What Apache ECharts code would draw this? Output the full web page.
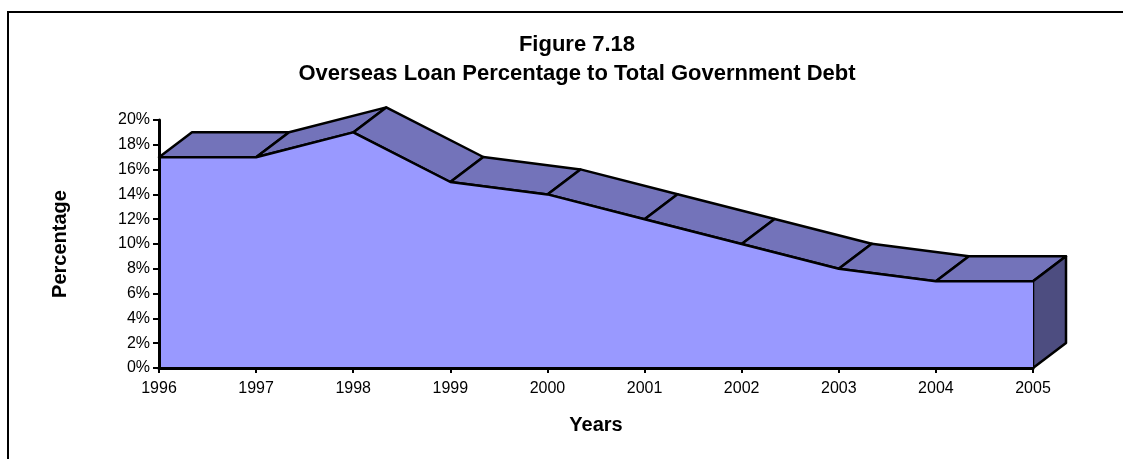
<!DOCTYPE html>
<html>
<head>
<meta charset="utf-8">
<script src="https://cdn.jsdelivr.net/npm/echarts@6/dist/echarts.min.js"></script>
<style>
html,body{margin:0;padding:0;background:#fff;}
#c{width:1123px;height:459px;}
</style>
</head>
<body>
<div id="c"></div>
<script>
var years = ['1996','1997','1998','1999','2000','2001','2002','2003','2004','2005'];
var values = [17, 17, 19, 15, 14, 12, 10, 8, 7, 7];
var yTicks = [0, 2, 4, 6, 8, 10, 12, 14, 16, 18, 20];
var titleLines = ['Figure 7.18', 'Overseas Loan Percentage to Total Government Debt'];

var DX = 33, DY = -25;
var FRONT = '#9999FF', TOP = '#7373BA', SIDE = '#4D4D80';
var FONT = 'Liberation Sans, Arial, sans-serif';

var chart = echarts.init(document.getElementById('c'));

function renderDepth(params, api) {
  var i = params.dataIndex;
  var n = values.length;
  var p = api.coord([i, values[i]]);
  var children = [];
  if (i < n - 1) {
    var q = api.coord([i + 1, values[i + 1]]);
    children.push({
      type: 'polygon',
      shape: { points: [p, q, [q[0] + DX, q[1] + DY], [p[0] + DX, p[1] + DY]] },
      style: { fill: TOP, stroke: '#000', lineWidth: 2.5, lineJoin: 'round' }
    });
  } else {
    var b = api.coord([i, 0]);
    children.push({
      type: 'polygon',
      shape: { points: [p, [p[0] + DX, p[1] + DY], [b[0] + DX, b[1] + DY], b] },
      style: { fill: SIDE, stroke: '#000', lineWidth: 2.5, lineJoin: 'round' }
    });
  }
  return { type: 'group', children: children };
}

chart.setOption({
  animation: false,
  backgroundColor: '#fff',
  graphic: [{
    type: 'rect',
    shape: { x: 8, y: 12, width: 1130, height: 470 },
    style: { fill: 'none', stroke: '#000', lineWidth: 2 },
    z: 0
  }],
  title: {
    text: titleLines.join('\n'),
    left: 572, top: 25, textAlign: 'center',
    textStyle: { fontFamily: FONT, fontWeight: 'bold', fontSize: 22, lineHeight: 29, color: '#000' }
  },
  grid: { left: 159, right: 90, top: 120, bottom: 91 },
  xAxis: {
    type: 'category',
    data: years,
    boundaryGap: false,
    z: 10,
    name: 'Years',
    nameLocation: 'middle',
    nameGap: 47,
    nameTextStyle: { fontFamily: FONT, fontWeight: 'bold', fontSize: 20, color: '#000' },
    axisLine: { lineStyle: { color: '#000', width: 3 } },
    axisTick: { show: true, length: 5, alignWithLabel: true, lineStyle: { color: '#000', width: 2 } },
    axisLabel: { fontFamily: FONT, fontSize: 16, color: '#000', margin: 13 },
    splitLine: { show: false }
  },
  yAxis: {
    type: 'value',
    min: yTicks[0], max: yTicks[yTicks.length - 1], interval: 2,
    z: 10,
    name: 'Percentage',
    nameLocation: 'middle',
    nameGap: 89,
    nameRotate: 90,
    nameTextStyle: { fontFamily: FONT, fontWeight: 'bold', fontSize: 20, color: '#000' },
    axisLine: { show: true, lineStyle: { color: '#000', width: 3 } },
    axisTick: { show: true, length: 6, lineStyle: { color: '#000', width: 2 } },
    axisLabel: { fontFamily: FONT, fontSize: 16, color: '#000', margin: 9, formatter: '{value}%' },
    splitLine: { show: false }
  },
  series: [
    {
      type: 'custom',
      renderItem: renderDepth,
      data: values.map(function (v, i) { return [i, v]; }),
      clip: false,
      z: 2
    },
    {
      type: 'line',
      data: values,
      symbol: 'none',
      lineStyle: { color: '#000', width: 2.5 },
      areaStyle: { color: FRONT, opacity: 1 },
      z: 3
    }
  ]
});
</script>
</body>
</html>
